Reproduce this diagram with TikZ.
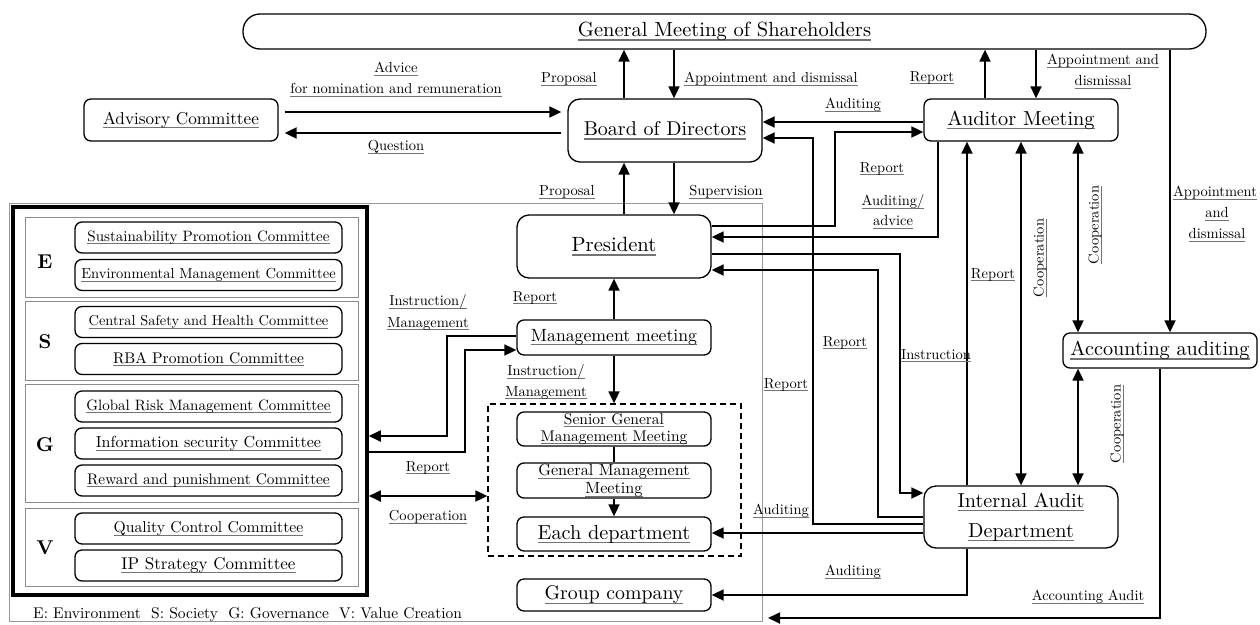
\documentclass[tikz,border=0pt]{standalone}
\usepackage{fontspec}
\setmainfont{lmroman10-regular}[Extension=.otf, BoldFont=lmroman10-bold]
\usetikzlibrary{arrows.meta}
\newcommand{\ul}[1]{\leavevmode\begingroup\setbox0\hbox{#1}\rlap{\color{black!55}\rule[-0.2em]{\wd0}{0.065em}}\box0\endgroup}
\newcommand{\fs}[1]{\fontsize{#1}{#1}\selectfont}
\begin{document}
\begin{tikzpicture}[x=1pt,y=-1pt,
  box/.style={draw, line width=1.3pt, rounded corners=7pt, inner sep=0pt, align=center},
  mbox/.style={box, minimum width=194pt},
  cbox/.style={box, minimum width=267pt, minimum height=31pt},
  gbox/.style={draw=black!45, line width=0.8pt, inner sep=0pt, minimum width=333pt},
  conn/.style={line width=1.8pt},
  arr/.style={conn, -{Triangle[length=12pt,width=11pt]}},
  darr/.style={conn, {Triangle[length=12pt,width=11pt]}-{Triangle[length=12pt,width=11pt]}},
  lab/.style={font=\fs{14.5}, inner sep=0pt, align=center},
  letter/.style={font=\fs{20}\bfseries, inner sep=0pt}
]
\useasboundingbox (0,0) rectangle (1260,624);
% frames
\node[draw=black!40, line width=0.8pt, inner sep=0pt, minimum width=753pt, minimum height=418pt] (outer) at (385.5,412) {};
\node[draw, line width=3.5pt, inner sep=0pt, minimum width=354pt, minimum height=388pt] (cont) at (190,401) {};
\node[draw, dashed, dash pattern=on 6pt off 4pt, line width=1.3pt, inner sep=0pt, minimum width=253pt, minimum height=152pt] (dash) at (614.5,480) {};
\node[gbox, minimum height=80pt] (gE) at (191.5,257) {};
\node[gbox, minimum height=79pt] (gS) at (191.5,340.5) {};
\node[gbox, minimum height=118pt] (gG) at (191.5,443) {};
\node[gbox, minimum height=78pt] (gV) at (191.5,547) {};
\node[letter] (xE) at (45,262) {E};
\node[letter] (xS) at (45,342) {S};
\node[letter] (xG) at (45,445) {G};
\node[letter] (xV) at (45,548) {V};
% committees
\node[cbox, font=\fs{15}] (c1) at (208.5,237.5) {\ul{Sustainability Promotion Committee}};
\node[cbox, font=\fs{14.5}] (c2) at (208.5,275) {\ul{Environmental Management Committee}};
\node[cbox, font=\fs{14.4}] (c3) at (208.5,322) {\ul{Central Safety and Health Committee}};
\node[cbox, font=\fs{15.5}] (c4) at (208.5,359) {\ul{RBA Promotion Committee}};
\node[cbox, font=\fs{15}] (c5) at (208.5,406.5) {\ul{Global Risk Management Committee}};
\node[cbox, font=\fs{16}] (c6) at (208.5,443.5) {\ul{Information security Committee}};
\node[cbox, font=\fs{15.3}] (c7) at (208.5,480.5) {\ul{Reward and punishment Committee}};
\node[cbox, font=\fs{15.7}] (c8) at (208.5,528.5) {\ul{Quality Control Committee}};
\node[cbox, font=\fs{17}] (c9) at (208.5,565.5) {\ul{IP Strategy Committee}};
% main boxes
\node[box, rounded corners=17pt, minimum width=963pt, minimum height=35pt, font=\fs{20.5}] (gms) at (724.5,31.5) {\ul{General Meeting of Shareholders}};
\node[mbox, minimum height=42pt, font=\fs{17.2}] (adv) at (181,120) {\ul{Advisory Committee}};
\node[mbox, minimum height=63pt, rounded corners=12pt, font=\fs{20}] (board) at (665,130.5) {\ul{Board of Directors}};
\node[mbox, minimum height=42pt, font=\fs{20.3}] (aud) at (1021,120) {\ul{Auditor Meeting}};
\node[mbox, minimum height=63pt, rounded corners=12pt, font=\fs{20.6}] (pres) at (614,246.5) {\ul{President}};
\node[mbox, minimum height=35pt, font=\fs{17.7}] (mgmt) at (614,337.5) {\ul{Management meeting}};
\node[mbox, minimum height=34pt, font=\fontsize{15.5}{17}\selectfont] (senior) at (614,429) {\ul{Senior General}\\\ul{Management Meeting}};
\node[mbox, minimum height=35pt, font=\fontsize{16.2}{18}\selectfont] (general) at (614,480.5) {\ul{General Management}\\\ul{Meeting}};
\node[mbox, minimum height=34pt, font=\fs{20.3}] (each) at (614,534) {\ul{Each department}};
\node[mbox, minimum height=32pt, font=\fs{19.8}] (group) at (614,595) {\ul{Group company}};
\node[mbox, minimum height=35pt, font=\fs{20.2}] (acct) at (1160,350.5) {\ul{Accounting auditing}};
\node[mbox, minimum height=62pt, rounded corners=12pt, font=\fontsize{20.2}{30}\selectfont] (iad) at (1021,517) {\ul{Internal Audit}\\\ul{Department}};
\coordinate (aaend) at (768,618);
% connectors
\draw[arr] (624,0 |- board.north) -- (624,0 |- gms.south);
\draw[arr] (674,0 |- gms.south) -- (674,0 |- board.north);
\draw[arr, shorten <=6pt, shorten >=6pt] (adv.east |- 0,112) -- (board.west |- 0,112);
\draw[arr, shorten <=6pt, shorten >=6pt] (board.west |- 0,133) -- (adv.east |- 0,133);
\draw[arr] (aud.west |- 0,122) -- (board.east |- 0,122);
\draw[arr] (624,0 |- pres.north) -- (624,0 |- board.south);
\draw[arr] (674,0 |- board.south) -- (674,0 |- pres.north);
\draw[arr] (mgmt.north) -- (pres.south);
\draw[arr] (mgmt.south) -- (mgmt.south |- dash.north);
\draw[conn] (senior.south) -- (general.north);
\draw[arr] (general.south) -- (each.north);
\draw[arr] (mgmt.west |- 0,336) -| (447,436) -- (cont.east |- 0,436);
\draw[arr] (cont.east |- 0,452) -| (465,350) -- (mgmt.west |- 0,350);
\draw[darr] (cont.east |- 0,496) -- (dash.west |- 0,496);
\draw[arr] (pres.east |- 0,226) -| (835,132) -- (aud.west |- 0,132);
\draw[arr] (938,0 |- aud.south) |- (pres.east |- 0,237);
\draw[arr] (pres.east |- 0,254) -| (900,493) -- (iad.west |- 0,493);
\draw[arr] (iad.west |- 0,517) -| (878,270) -- (pres.east |- 0,270);
\draw[arr] (iad.west |- 0,524) -| (813,138) -- (board.east |- 0,138);
\draw[arr] (iad.west |- 0,533) -- (each.east |- 0,533);
\draw[arr] (967,0 |- iad.north) -- (967,0 |- aud.south);
\draw[darr] (iad.north) -- (aud.south);
\draw[darr] (1078,0 |- aud.south) -- (1078,0 |- acct.north);
\draw[darr] (1078,0 |- acct.south) -- (1078,0 |- iad.north);
\draw[arr] (985,0 |- aud.north) -- (985,0 |- gms.south);
\draw[arr] (1036,0 |- gms.south) -- (1036,0 |- aud.north);
\draw[arr] (1170,0 |- gms.south) -- (1170,0 |- acct.north);
\draw[arr] (967,0 |- iad.south) |- (group.east);
\draw[arr] (1160,0 |- acct.south) |- (aaend);
% labels
\node[lab] (l1) at (396,69) {\ul{Advice}};
\node[lab] (l2) at (396,90) {\ul{for nomination and remuneration}};
\node[lab] (l3) at (396,147) {\ul{Question}};
\node[lab] (l4) at (569,79) {\ul{Proposal}};
\node[lab] (l5) at (771,79) {\ul{Appointment and dismissal}};
\node[lab] (l6) at (567,192) {\ul{Proposal}};
\node[lab] (l7) at (726,192) {\ul{Supervision}};
\node[lab] (l8) at (853,105) {\ul{Auditing}};
\node[lab] (l9) at (932,78) {\ul{Report}};
\node[lab] (l10) at (1103,61) {\ul{Appointment and}};
\node[lab] (l11) at (1103,82) {\ul{dismissal}};
\node[lab] (l12) at (882,169) {\ul{Report}};
\node[lab] (l13) at (893,202) {\ul{Auditing/}};
\node[lab] (l14) at (893,222) {\ul{advice}};
\node[lab] (l15) at (1215,193) {\ul{Appointment}};
\node[lab] (l16) at (1217,214) {\ul{and}};
\node[lab] (l17) at (1217,235) {\ul{dismissal}};
\node[lab] (l18) at (535,298) {\ul{Report}};
\node[lab] (l19) at (428,302) {\ul{Instruction/}};
\node[lab] (l20) at (428,324) {\ul{Management}};
\node[lab] (l21) at (546,372) {\ul{Instruction/}};
\node[lab] (l22) at (546,393) {\ul{Management}};
\node[lab] (l23) at (428,468) {\ul{Report}};
\node[lab] (l24) at (428,517) {\ul{Cooperation}};
\node[lab] (l25) at (786,385) {\ul{Report}};
\node[lab] (l26) at (845,343) {\ul{Report}};
\node[lab] (l27) at (936,356) {\ul{Instruction}};
\node[lab] (l28) at (993,275) {\ul{Report}};
\node[lab, rotate=90] (l29) at (1040,258) {\ul{Cooperation}};
\node[lab, rotate=90] (l30) at (1095,225) {\ul{Cooperation}};
\node[lab, rotate=90] (l31) at (1117,424) {\ul{Cooperation}};
\node[lab] (l32) at (781,511) {\ul{Auditing}};
\node[lab] (l33) at (853,572) {\ul{Auditing}};
\node[lab] (l34) at (1088,597) {\ul{Accounting Audit}};
\node[lab, anchor=west, font=\fs{15.5}] (leg) at (33,615) {E: Environment\ \ S: Society\ \ G: Governance\ \ V: Value Creation};
\end{tikzpicture}
\end{document}
